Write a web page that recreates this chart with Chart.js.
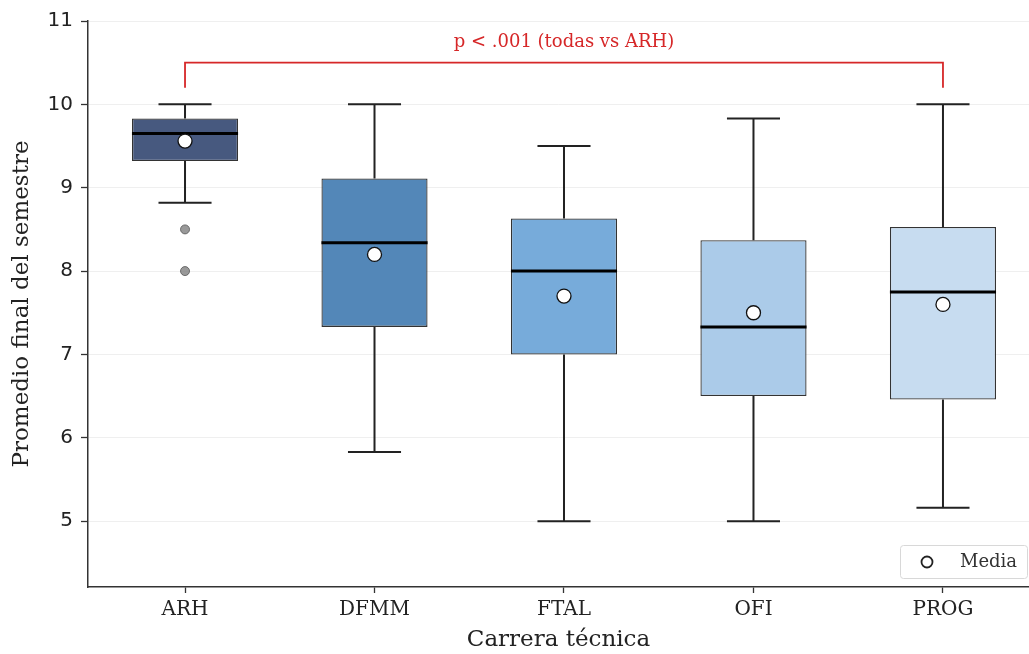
<!DOCTYPE html>
<html><head><meta charset="utf-8">
<script src="https://cdn.jsdelivr.net/npm/chart.js@4"></script>
<style>html,body{margin:0;padding:0;background:#fff}#wrap{width:1029px;height:654px;position:relative}</style>
</head><body><div id="wrap"><canvas id="c"></canvas></div>
<script>
const categories = ['ARH', 'DFMM', 'FTAL', 'OFI', 'PROG'];
const whiskerLow = [8.82, 5.83, 5.0, 5.0, 5.16];
const q1 = [9.32, 7.33, 7.0, 6.5, 6.46];
const median = [9.65, 8.34, 8.0, 7.33, 7.75];
const q3 = [9.83, 9.11, 8.63, 8.37, 8.53];
const whiskerHigh = [10.0, 10.0, 9.5, 9.83, 10.0];
const means = [9.56, 8.20, 7.70, 7.50, 7.60];
const outlierCat = [0, 0];
const outlierVal = [8.5, 8.0];
const yTicks = [5, 6, 7, 8, 9, 10, 11];
const boxColors = ['#47597f', '#5387b8', '#77abda', '#abcbe9', '#c7dcf0'];
const bracketFrom = 0, bracketTo = 4, bracketLow = 10.2, bracketHigh = 10.5, bracketLabelY = 10.75;
const bracketText = 'p < .001 (todas vs ARH)';
const legendLabel = 'Media';

const BOX_HALF = 0.28;
const CAP_HALF = 0.14;

const boxPlugin = {
  id: 'boxParts',
  afterDatasetDraw(chart, args) {
    if (args.index !== 0) return;
    const ctx = chart.ctx, xs = chart.scales.x, ys = chart.scales.y;
    ctx.save();
    ctx.lineCap = 'butt';
    for (let i = 0; i < categories.length; i++) {
      const cx = xs.getPixelForValue(i);
      const cl = xs.getPixelForValue(i - CAP_HALF), cr = xs.getPixelForValue(i + CAP_HALF);
      ctx.strokeStyle = '#222';
      ctx.lineWidth = 2;
      ctx.beginPath();
      ctx.moveTo(cx, ys.getPixelForValue(q3[i])); ctx.lineTo(cx, ys.getPixelForValue(whiskerHigh[i]));
      ctx.moveTo(cx, ys.getPixelForValue(q1[i])); ctx.lineTo(cx, ys.getPixelForValue(whiskerLow[i]));
      ctx.moveTo(cl, ys.getPixelForValue(whiskerHigh[i])); ctx.lineTo(cr, ys.getPixelForValue(whiskerHigh[i]));
      ctx.moveTo(cl, ys.getPixelForValue(whiskerLow[i])); ctx.lineTo(cr, ys.getPixelForValue(whiskerLow[i]));
      ctx.stroke();
      ctx.strokeStyle = '#000';
      ctx.lineWidth = 3;
      ctx.beginPath();
      ctx.moveTo(xs.getPixelForValue(i - BOX_HALF), ys.getPixelForValue(median[i]));
      ctx.lineTo(xs.getPixelForValue(i + BOX_HALF), ys.getPixelForValue(median[i]));
      ctx.stroke();
    }
    ctx.restore();
  },
  afterDraw(chart) {
    const ctx = chart.ctx, xs = chart.scales.x, ys = chart.scales.y, ca = chart.chartArea;
    ctx.save();
    const x0 = xs.getPixelForValue(bracketFrom), x1 = xs.getPixelForValue(bracketTo);
    const yl = ys.getPixelForValue(bracketLow), yh = ys.getPixelForValue(bracketHigh);
    ctx.strokeStyle = '#d62728';
    ctx.lineWidth = 1.8;
    ctx.beginPath();
    ctx.moveTo(x0, yl); ctx.lineTo(x0, yh); ctx.lineTo(x1, yh); ctx.lineTo(x1, yl);
    ctx.stroke();
    ctx.fillStyle = '#d62728';
    ctx.font = '18px "DejaVu Serif"';
    ctx.textAlign = 'center';
    ctx.textBaseline = 'middle';
    ctx.fillText(bracketText, (x0 + x1) / 2, ys.getPixelForValue(bracketLabelY));
    const bw = 127, bh = 33;
    const bx = ca.right - 2 - bw, by = ca.bottom - 9 - bh;
    ctx.fillStyle = 'rgba(255,255,255,0.85)';
    ctx.strokeStyle = '#d8d8d8';
    ctx.lineWidth = 1;
    ctx.beginPath();
    ctx.roundRect(bx + 0.5, by + 0.5, bw, bh, 3);
    ctx.fill(); ctx.stroke();
    ctx.beginPath();
    ctx.arc(bx + 27, by + bh / 2 + 0.5, 5.5, 0, Math.PI * 2);
    ctx.fillStyle = '#fff'; ctx.fill();
    ctx.strokeStyle = '#222'; ctx.lineWidth = 1.8; ctx.stroke();
    ctx.fillStyle = '#333';
    ctx.font = '18px "DejaVu Serif"';
    ctx.textAlign = 'left';
    ctx.fillText(legendLabel, bx + 60, by + bh / 2 + 1);
    ctx.restore();
  }
};

new Chart(document.getElementById('c'), {
  type: 'bar',
  data: {
    datasets: [
      {
        label: 'Caja',
        data: categories.map((c, i) => ({ x: i, y: [q1[i], q3[i]] })),
        backgroundColor: boxColors,
        borderColor: '#333',
        borderWidth: 1.3,
        borderSkipped: false,
        categoryPercentage: 1,
        barPercentage: BOX_HALF * 2,
        order: 3
      },
      {
        type: 'line',
        label: 'Atípicos',
        data: outlierVal.map((v, i) => ({ x: outlierCat[i], y: v })),
        showLine: false,
        pointRadius: 4.5,
        pointBackgroundColor: 'rgba(128,128,128,0.8)',
        pointBorderColor: 'rgba(85,85,85,0.8)',
        pointBorderWidth: 1,
        order: 2
      },
      {
        type: 'line',
        label: legendLabel,
        data: means.map((v, i) => ({ x: i, y: v })),
        showLine: false,
        pointRadius: 7,
        pointBackgroundColor: '#fff',
        pointBorderColor: '#111',
        pointBorderWidth: 1.3,
        order: 1
      }
    ]
  },
  options: {
    responsive: true,
    maintainAspectRatio: false,
    animation: false,
    devicePixelRatio: 1,
    layout: { autoPadding: false, padding: { top: 21, right: 0, left: 0, bottom: 0 } },
    plugins: { legend: { display: false }, tooltip: { enabled: false } },
    scales: {
      x: {
        type: 'linear',
        offset: false,
        min: -0.512,
        max: 4.454,
        afterBuildTicks(scale) { scale.ticks = categories.map((c, i) => ({ value: i })); },
        afterFit(scale) { scale.height = 67; scale.paddingRight = 0; scale.paddingLeft = 0; },
        ticks: {
          callback: (v) => categories[v],
          font: { family: 'DejaVu Serif', size: 20 },
          color: '#222',
          padding: 5,
          maxRotation: 0,
          autoSkip: false
        },
        grid: { offset: false, drawOnChartArea: false, drawTicks: true, tickLength: 6, tickColor: '#333', tickWidth: 1.3 },
        border: { color: '#333', width: 1.5 },
        title: {
          display: true,
          text: 'Carrera técnica',
          font: { family: 'DejaVu Serif', size: 23 },
          color: '#222',
          padding: { top: 0, bottom: 0 }
        }
      },
      y: {
        min: 4.21,
        max: 11,
        afterBuildTicks(scale) { scale.ticks = yTicks.map(v => ({ value: v })); },
        afterFit(scale) { scale.width = 88; },
        ticks: {
          font: { family: 'DejaVu Sans', size: 20 },
          color: '#222',
          padding: 8
        },
        grid: { color: '#efefef', lineWidth: 1, drawTicks: true, tickLength: 7, tickColor: '#333', tickWidth: 1.3 },
        border: { color: '#333', width: 1.5 },
        title: {
          display: true,
          text: 'Promedio final del semestre',
          font: { family: 'DejaVu Serif', size: 23 },
          color: '#222',
          padding: { top: 8, bottom: 4 }
        }
      }
    }
  },
  plugins: [boxPlugin]
});
</script></body></html>
